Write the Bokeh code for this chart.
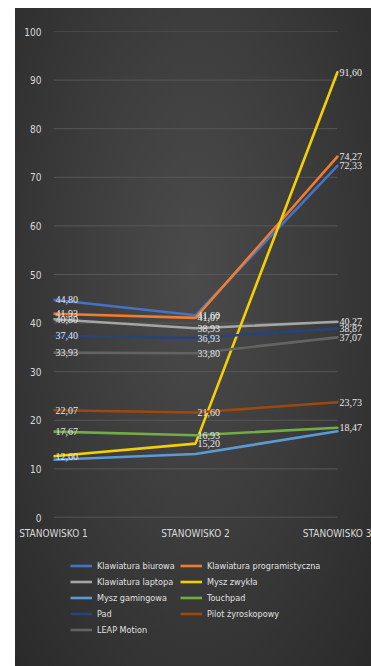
from bokeh.plotting import figure
from bokeh.models import (ColumnDataSource, FixedTicker, Legend, LegendItem, Spacer, LabelSet)
from bokeh.layouts import row, column
from bokeh.embed import file_html
from bokeh.resources import INLINE

categories = ["STANOWISKO 1", "STANOWISKO 2", "STANOWISKO 3"]
y_ticks = [0, 10, 20, 30, 40, 50, 60, 70, 80, 90, 100]

series_names = ["Klawiatura biurowa", "Klawiatura programistyczna", "Klawiatura laptopa",
                "Mysz zwykła", "Mysz gamingowa", "Touchpad", "Pad",
                "Pilot żyroskopowy", "LEAP Motion"]
klawiatura_biurowa = [44.80, 41.60, 72.33]
klawiatura_programistyczna = [41.93, 41.07, 74.27]
klawiatura_laptopa = [40.80, 38.93, 40.27]
mysz_zwykla = [12.60, 15.20, 91.60]
mysz_gamingowa = [11.87, 13.07, 17.73]
touchpad = [17.67, 16.93, 18.47]
pad = [37.40, 36.93, 38.87]
pilot_zyroskopowy = [22.07, 21.60, 23.73]
leap_motion = [33.93, 33.80, 37.07]

series_values = [klawiatura_biurowa, klawiatura_programistyczna, klawiatura_laptopa,
                 mysz_zwykla, mysz_gamingowa, touchpad, pad, pilot_zyroskopowy, leap_motion]
colors = ["#4472C4", "#ED7D31", "#A5A5A5", "#F5D000", "#5B9BD5", "#70AD47",
          "#264478", "#9E480E", "#636363"]
show_labels = [True, True, True, True, False, True, True, True, True]

FONT = "DejaVu Sans Condensed"

W = 356
xs = [0, 1, 2]
p = figure(width=W, height=537, x_range=(xs[0], xs[-1] + 0.24), y_range=(0, 100),
           output_backend="svg", toolbar_location=None,
           min_border_left=38, min_border_right=0, min_border_top=23,
           min_border_bottom=28)
p.background_fill_alpha = 0
p.border_fill_alpha = 0
p.outline_line_color = None

# horizontal gridlines ending at the last category
grid_src = ColumnDataSource(dict(x0=[xs[0]] * (len(y_ticks) - 1), x1=[xs[-1]] * (len(y_ticks) - 1),
                                 y=y_ticks[1:]))
p.segment(x0="x0", x1="x1", y0="y", y1="y", source=grid_src, line_color="#575757", line_width=1)
p.segment(x0=xs[0], x1=xs[-1], y0=y_ticks[0], y1=y_ticks[0], line_color="#5e5e5e", line_width=1.5)

renderers = []
for name, vals, col, lab in zip(series_names, series_values, colors, show_labels):
    src = ColumnDataSource(dict(x=xs, y=vals, t=[f"{v:.2f}".replace(".", ",") for v in vals]))
    r = p.line("x", "y", source=src, line_color=col, line_width=2.6, line_cap="round")
    renderers.append(r)
    if lab:
        ls = LabelSet(x="x", y="y", text="t", source=src, x_offset=2, y_offset=0,
                      text_baseline="middle", text_align="left", text_color="#e8e8e8",
                      text_font_size="10px", text_font=FONT)
        p.add_layout(ls)

# axes
p.xaxis.ticker = FixedTicker(ticks=xs)
p.xaxis.major_label_overrides = {i: c for i, c in enumerate(categories)}
p.xaxis.major_tick_line_color = None
p.xaxis.minor_tick_line_color = None
p.xaxis.axis_line_color = None
p.xaxis.major_label_text_color = "#d9d9d9"
p.xaxis.major_label_text_font_size = "10px"
p.xaxis.major_label_text_font = FONT
p.xaxis.major_label_standoff = 4

p.yaxis.ticker = FixedTicker(ticks=y_ticks)
p.yaxis.major_tick_line_color = None
p.yaxis.minor_tick_line_color = None
p.yaxis.axis_line_color = None
p.yaxis.major_label_text_color = "#d9d9d9"
p.yaxis.major_label_text_font_size = "10px"
p.yaxis.major_label_text_font = FONT
p.yaxis.major_label_standoff = 6

p.grid.grid_line_color = None

# legend figure (series drawn outside its visible range, only legend shows)
H2 = 121
p2 = figure(width=W, height=H2, x_range=(100, 101), y_range=(0, 100),
            output_backend="svg", toolbar_location=None,
            min_border=0, x_axis_type=None, y_axis_type=None)
p2.background_fill_alpha = 0
p2.border_fill_alpha = 0
p2.outline_line_color = None
p2.grid.grid_line_color = None
leg_r = [p2.line(x=xs, y=v, line_color=c, line_width=2.6) for v, c in zip(series_values, colors)]

def make_legend(idx, loc):
    items = [LegendItem(label=series_names[i], renderers=[leg_r[i]]) for i in idx]
    lg = Legend(items=items, location=loc, orientation="vertical",
                background_fill_alpha=0, border_line_color=None,
                label_text_color="#e0e0e0", label_text_font_size="9px",
                label_text_font=FONT, glyph_width=22, glyph_height=11,
                label_height=11, spacing=5, padding=0, margin=0,
                label_standoff=5)
    p2.add_layout(lg, "center")

make_legend([0, 2, 4, 6, 8], (17, 31))
make_legend([1, 3, 5, 7], (127, 47))

inner = column(p, p2, styles={"background": "radial-gradient(ellipse at 50% 40%, #4b4b4b 0%, #3d3d3d 45%, #2a2a2a 100%)"})
layout = column(Spacer(width=10, height=8), row(Spacer(width=15, height=10), inner))
open("out.html", "w").write(file_html(layout, INLINE))
